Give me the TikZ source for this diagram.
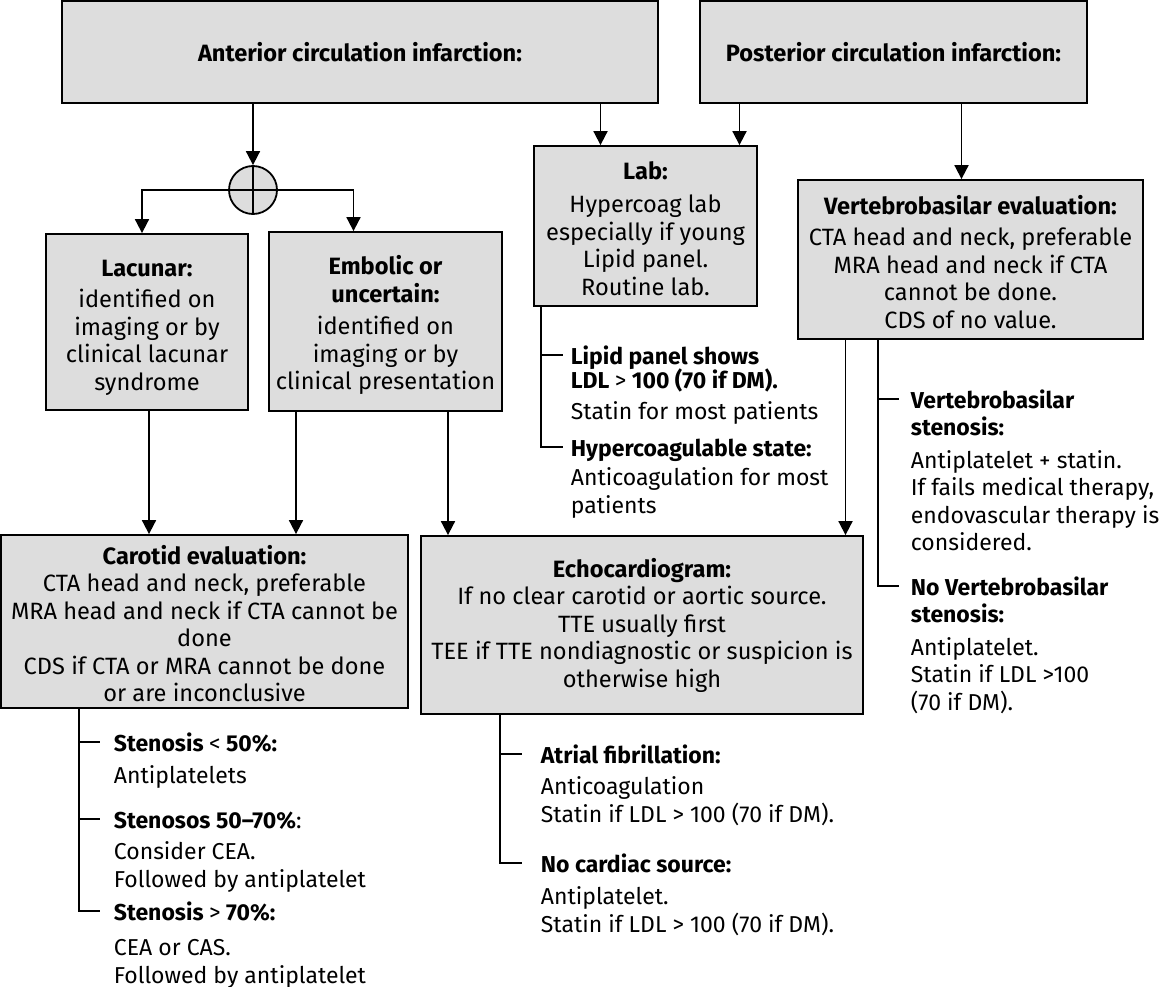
\documentclass[tikz,border=0pt]{standalone}
\usepackage{fontspec}
\setmainfont{Fira Sans}
\usepackage{tikz}
\usetikzlibrary{arrows.meta}
\definecolor{boxgray}{RGB}{221,221,221}
\tikzset{>/.tip={Triangle[width=14pt,length=14pt]}}
\newcommand{\hd}[1]{\textbf{#1}}
\newcommand{\boxtop}[1]{\rule{0pt}{#1}}

\begin{document}
\begin{tikzpicture}[x=1pt, y=-1pt, line width=1.8pt,
  box/.style={draw, fill=boxgray, align=center, inner sep=0pt, font=\fontsize{23.6}{27.5}\selectfont},
  item/.style={anchor=north west, align=left, inner sep=0pt, font=\fontsize{23}{27.5}\selectfont}]
 \useasboundingbox (0,0) rectangle (1161,987);

 \node[box, minimum width=596pt, minimum height=102pt] (ant)  at (360,52) {\hd{Anterior circulation infarction:}};
 \node[box, minimum width=387pt, minimum height=102pt] (post) at (893.5,52) {\hd{Posterior circulation infarction:}};
 \node[draw, circle, fill=boxgray, minimum size=48pt, inner sep=0pt] (join) at (253,190) {};
 \node[box, minimum width=202pt, minimum height=176pt] (lac) at (147,322)
   {\boxtop{28pt}\hd{Lacunar:}\\[4pt] identified on\\ imaging or by\\ clinical lacunar\\ syndrome};
 \node[box, minimum width=233pt, minimum height=179pt] (emb) at (385.5,321.5)
   {\boxtop{26.5pt}\hd{Embolic or}\\ \hd{uncertain:}\\[5pt] identified on\\ imaging or by\\ clinical presentation};
 \node[box, minimum width=223pt, minimum height=160pt] (lab) at (645.5,226)
   {\boxtop{22.5pt}\hd{Lab:}\\[6pt] Hypercoag lab\\ especially if young\\ Lipid panel.\\ Routine lab.};
 \node[box, minimum width=345pt, minimum height=159pt] (vert) at (970.5,259.5)
   {\boxtop{23.5pt}\hd{Vertebrobasilar evaluation:}\\[4pt] CTA head and neck, preferable\\ MRA head and neck if CTA\\ cannot be done.\\ CDS of no value.};
 \node[box, minimum width=407pt, minimum height=173pt] (car) at (204.5,621.5)
   {\boxtop{23.5pt}\hd{Carotid evaluation:}\\ CTA head and neck, preferable\\ MRA head and neck if CTA cannot be\\ done\\ CDS if CTA or MRA cannot be done\\ or are inconclusive};
 \node[box, minimum width=442pt, minimum height=178pt] (echo) at (642,625)
   {\hd{Echocardiogram:}\\ If no clear carotid or aortic source.\\ TTE usually first\\ TEE if TTE nondiagnostic or suspicion is\\ otherwise high};

 % items under the boxes
 \node[item] (ci1) at (113,731) {\strut\hd{Stenosis {\normalfont<} 50\%:}\\[5pt] Antiplatelets};
 \node[item] (ci2) at (113,808) {\strut\hd{Stenosos 50–70\%}:\\[4pt] Consider CEA.\\ Followed by antiplatelet};
 \node[item] (ci3) at (113,900) {\strut\hd{Stenosis {\normalfont>} 70\%:}\\[8pt] CEA or CAS.\\ Followed by antiplatelet};
 \node[item] (ei1) at (540,743) {\strut\hd{Atrial fibrillation:}\\[4pt] Anticoagulation\\ Statin if LDL > 100 (70 if DM).};
 \node[item] (ei2) at (540,852) {\strut\hd{No cardiac source:}\\[5pt] Antiplatelet.\\ Statin if LDL > 100 (70 if DM).};
 \node[item] (li1) at (570,344) {\strut\hd{Lipid panel shows}\\[-5pt] \hd{LDL {\normalfont>} 100 (70 if DM).}\\[4pt] Statin for most patients};
 \node[item] (li2) at (570,436) {\strut\hd{Hypercoagulable state:}\\[2pt] Anticoagulation for most\\ patients};
 \node[item] (vi1) at (910,388) {\strut\hd{Vertebrobasilar}\\ \hd{stenosis:}\\[5pt] Antiplatelet + statin.\\ If fails medical therapy,\\ endovascular therapy is\\ considered.};
 \node[item] (vi2) at (910,575) {\strut\hd{No Vertebrobasilar}\\ \hd{stenosis:}\\[5pt] Antiplatelet.\\ Statin if LDL >100\\ (70 if DM).};

 % arrows
 \draw[->] (ant.south -| join.north) -- (join.north);
 \draw (join.north) -- (join.south);
 \draw (join.west) -- (join.east);
 \coordinate (lacin) at ([xshift=-5pt]lac.north);
 \coordinate (embin) at ([xshift=-32pt]emb.north);
 \draw[->] (join.west) -| (lacin);
 \draw[->] (join.east) -| (embin);

 \coordinate (labinA) at ([xshift=-45pt]lab.north);
 \coordinate (labinP) at ([xshift=94pt]lab.north);
 \coordinate (vertin) at ([xshift=-9pt]vert.north);
 \draw[->] (labinA |- ant.south) -- (labinA);
 \draw[->] (labinP |- post.south) -- (labinP);
 \draw[->] (vertin |- post.south) -- (vertin);

 \coordinate (lacout) at ([xshift=2pt]lac.south);
 \coordinate (embout1) at ([xshift=-89.5pt]emb.south);
 \coordinate (embout2) at ([xshift=62.5pt]emb.south);
 \coordinate (vertout) at ([xshift=-125pt]vert.south);
 \draw[->] (lacout) -- (lacout |- car.north);
 \draw[->] (embout1) -- (embout1 |- car.north);
 \draw[->] (embout2) -- (embout2 |- echo.north);
 \draw[->] (vertout) -- (vertout |- echo.north);

 % brackets
 \coordinate (carfork) at ([xshift=79pt]car.south west);
 \coordinate (echofork) at ([xshift=80pt]echo.south west);
 \coordinate (labfork) at ([xshift=8pt]lab.south west);
 \coordinate (vertfork) at ([xshift=81pt]vert.south west);
 \foreach \i in {ci1,ci2,ci3}
   \draw[shorten >=13pt] (carfork) |- ([yshift=-11pt]\i.north west);
 \foreach \i in {ei1,ei2}
   \draw[shorten >=18pt] (echofork) |- ([yshift=-11pt]\i.north west);
 \foreach \i in {li1,li2}
   \draw[shorten >=7pt] (labfork) |- ([yshift=-11pt]\i.north west);
 \foreach \i in {vi1,vi2}
   \draw[shorten >=11pt] (vertfork) |- ([yshift=-11pt]\i.north west);
\end{tikzpicture}
\end{document}
